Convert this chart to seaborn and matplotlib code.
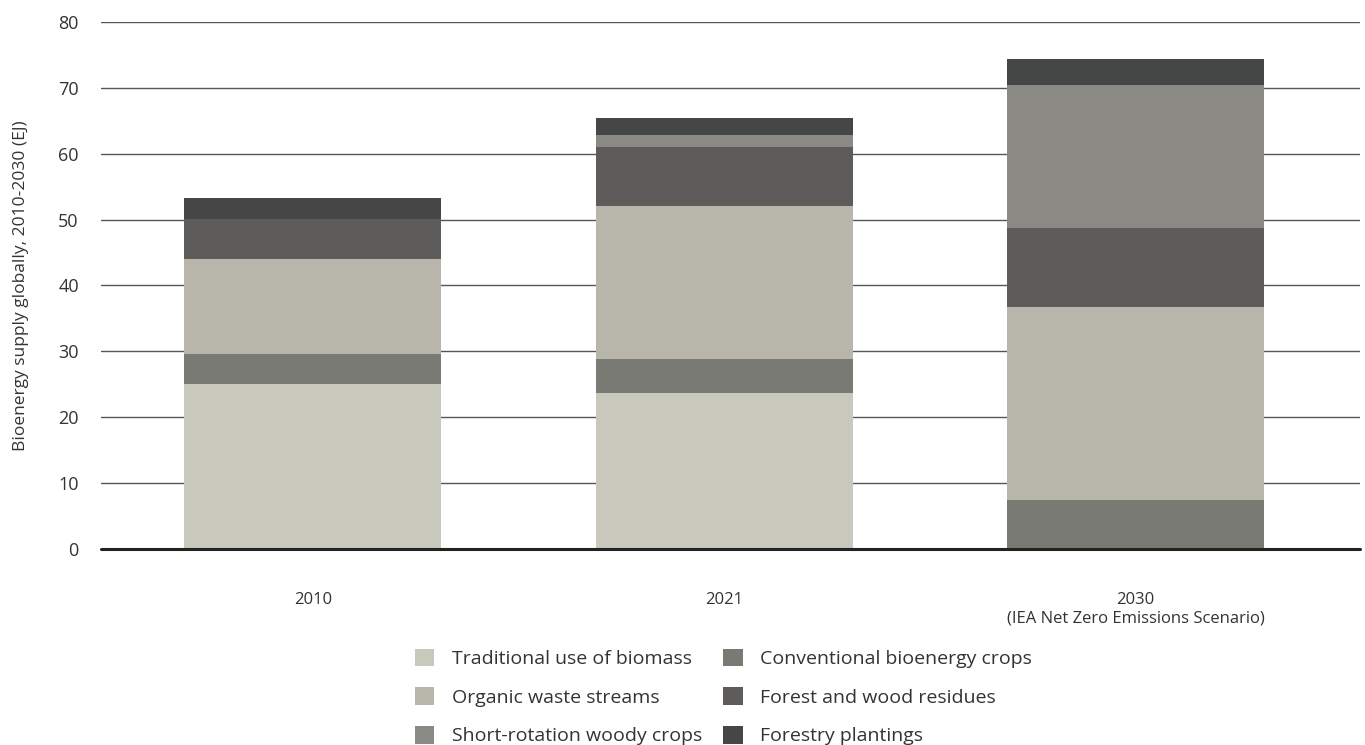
import numpy as np
import pandas as pd
import matplotlib
matplotlib.use("Agg")
import matplotlib.pyplot as plt
import seaborn as sns
from matplotlib.patches import Patch

# ----------------------
# Data (EJ)
# ----------------------
years = ["2010", "2021", "2030\n(IEA Net Zero Emissions Scenario)"]

traditional = [25.0, 23.7, 0.0]
conventional = [4.6, 5.1, 7.4]
organic = [14.4, 23.3, 29.3]
forest_residues = [6.1, 8.9, 12.0]
short_rotation = [0.0, 1.9, 21.7]
forestry = [3.2, 2.5, 4.0]

# stacking order bottom -> top
series = [
    ("Traditional use of biomass", traditional, "#c8c8bc"),
    ("Conventional bioenergy crops", conventional, "#7a7a74"),
    ("Organic waste streams", organic, "#b8b6aa"),
    ("Forest and wood residues", forest_residues, "#5d5c5a"),
    ("Short-rotation woody crops", short_rotation, "#8a8984"),
    ("Forestry plantings", forestry, "#454746"),
]

# ----------------------
# Plot settings
# ----------------------
sns.set_theme(style="white")
plt.rcParams["font.family"] = ["Open Sans", "DejaVu Sans"]

fig = plt.figure(figsize=(13.65, 7.45), dpi=100)
ax = fig.add_axes([101 / 1365, 196 / 745, 1259 / 1365, 527 / 745])

ax.yaxis.grid(True, color="#555555", linewidth=1.0)
ax.set_axisbelow(True)

bottom = np.zeros(len(years))
for name, vals, col in series:
    sns.barplot(x=years, y=vals, bottom=bottom, color=col, width=0.625,
                ax=ax, saturation=1, linewidth=0)
    bottom += np.array(vals)

ax.axhline(0, color="#222222", linewidth=2.2, zorder=5, clip_on=False)
ax.set_ylim(0, 80)
ax.set_xlim(-0.515, 2.546)
ax.set_yticks(range(0, 81, 10))
ax.tick_params(axis="y", labelsize=13, colors="#333333", pad=10)
ax.tick_params(axis="x", labelsize=12, colors="#333333", pad=25)
for s in ax.spines.values():
    s.set_visible(False)
ax.set_ylabel("Bioenergy supply globally, 2010-2030 (EJ)", fontsize=12.5,
              color="#333333", labelpad=21)
ax.set_xlabel("")

# ----------------------
# Legend (column-major: left col then right col)
# ----------------------
order = [0, 2, 4, 1, 3, 5]
handles = [Patch(facecolor=series[i][2], edgecolor="none") for i in order]
labels = [series[i][0] for i in order]
fig.legend(handles, labels, ncol=2, loc="upper center",
           bbox_to_anchor=(0.53, 0.153), frameon=False, fontsize=14,
           handlelength=1.0, handleheight=1.0, handletextpad=0.9,
           columnspacing=1.1, labelspacing=1.0, labelcolor="#333333")

plt.savefig("out.png", dpi=100)
plt.close()
